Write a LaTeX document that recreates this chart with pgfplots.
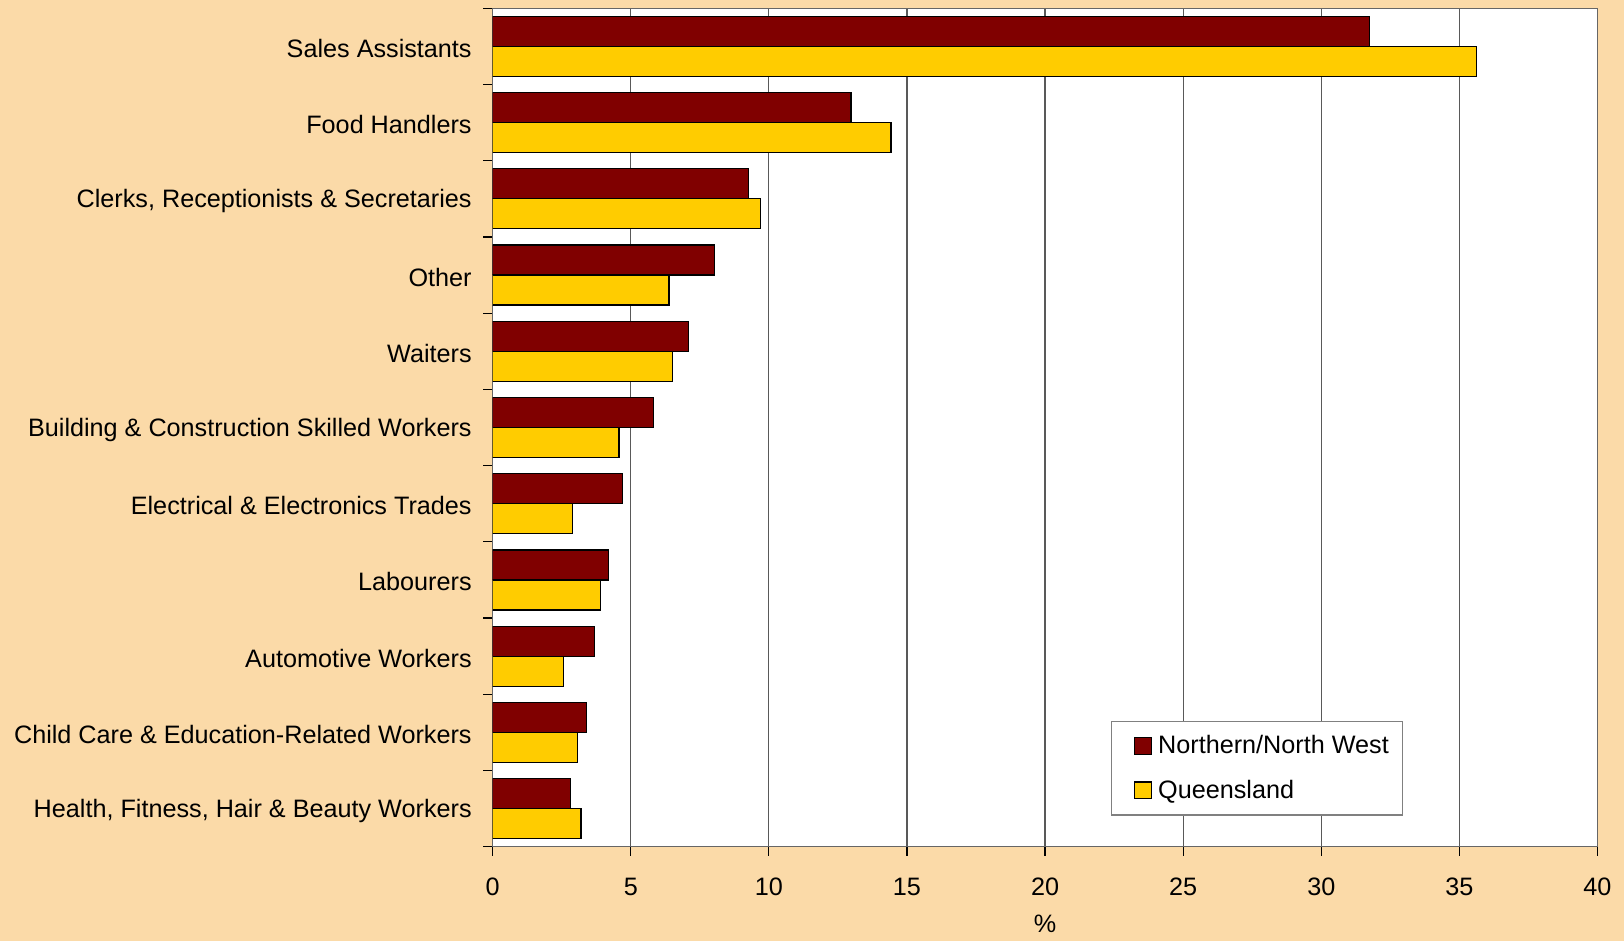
\documentclass[border=0pt]{standalone}
\usepackage{fontspec}
\setmainfont{Liberation Sans}
\usepackage{pgfplots}
\usepackage{pgfplotstable}
\pgfplotsset{compat=1.18}
\definecolor{peach}{RGB}{251,218,168}
\definecolor{nnw}{RGB}{128,0,0}
\definecolor{qld}{RGB}{255,204,0}

% occupations, bottom (0) to top (10)
\pgfplotstableread{
idx nnw qld
0 2.82 3.20
1 3.39 3.06
2 3.70 2.57
3 4.20 3.89
4 4.71 2.88
5 5.83 4.57
6 7.10 6.52
7 8.02 6.38
8 9.27 9.71
9 12.97 14.42
10 31.74 35.63
}\datatable

\begin{document}
\begin{tikzpicture}[font=\fontsize{12.6}{15}\selectfont]
\fill[peach] (0,0) rectangle (812pt,470.5pt);
\begin{axis}[
    at={(246.35pt,47.15pt)}, anchor=south west,
    scale only axis, width=552.4pt, height=419.2pt,
    xmin=0, xmax=40, ymin=-0.5, ymax=10.5,
    axis background/.style={fill=white},
    xbar, bar width=15pt,
    legend image code/.code={\path (-6pt,0) (9.6pt,0);
        \draw[#1,draw=black] (0pt,-4.2pt) rectangle (8.4pt,4.2pt);},
    xtick={0,5,...,40},
    ytick={0,...,10},
    yticklabels={{Health, Fitness, Hair \& Beauty Workers},
                 {Child Care \& Education-Related Workers},
                 {Automotive Workers},
                 {Labourers},
                 {Electrical \& Electronics Trades},
                 {Building \& Construction Skilled Workers},
                 {Waiters},
                 {Other},
                 {Clerks, Receptionists \& Secretaries},
                 {Food Handlers},
                 {Sales Assistants}},
    minor ytick={-0.5,0.5,...,10.5},
    major y tick style={draw=none},
    tick align=outside, tick pos=left,
    major tick length=4.5pt, minor tick length=4.7pt,
    tick style={black, line width=0.6pt},
    xmajorgrids, major x grid style={gray!70!black, line width=0.6pt},
    axis line style={gray!80!black, line width=0.7pt},
    /pgf/number format/assume math mode=true,
    ticklabel style={font=\fontsize{12.6}{15}\selectfont},
    yticklabel style={xshift=-2.5pt, yshift=-1pt},
    xticklabel style={yshift=-7.7pt},
    xlabel={\%},
    xlabel style={at={(axis description cs:0.5,0)}, anchor=center, yshift=-38.5pt},
    legend style={at={(0.8243,0.037)}, anchor=south east,
        draw=gray, fill=white, line width=0.6pt,
        inner xsep=5pt, inner ysep=5pt,
        row sep=7.5pt, font=\fontsize{12.6}{15}\selectfont},
    legend cell align=left,
]
\addplot[fill=nnw, draw=black, line width=0.6pt, bar shift=7.5pt] table[x=nnw, y=idx] {\datatable};
\addplot[fill=qld, draw=black, line width=0.6pt, bar shift=-7.5pt] table[x=qld, y=idx] {\datatable};
\legend{Northern/North West, Queensland}
\end{axis}
\pgfresetboundingbox
\path (0,0) rectangle (812pt,470.5pt);
\end{tikzpicture}
\end{document}
